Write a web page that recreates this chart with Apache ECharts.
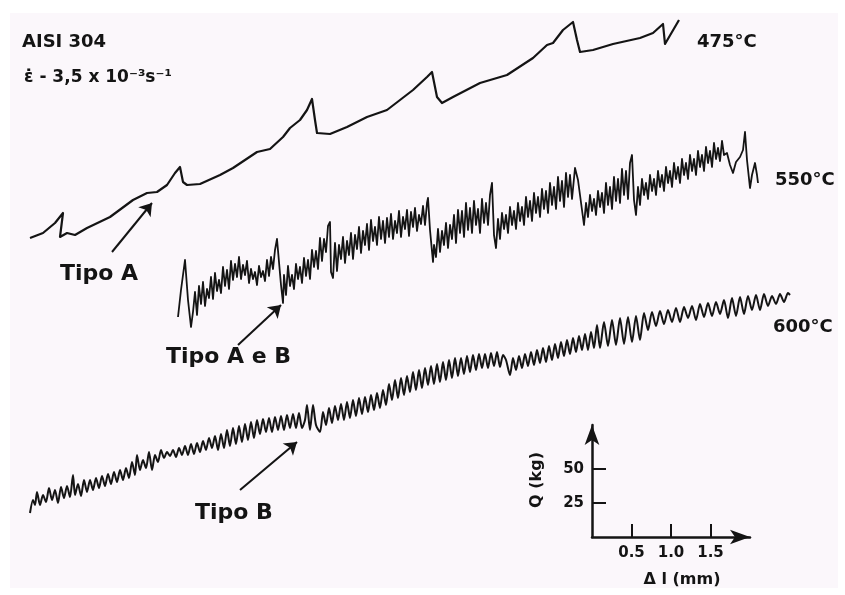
<!DOCTYPE html>
<html><head><meta charset="utf-8">
<script src="https://cdn.jsdelivr.net/npm/echarts@6/dist/echarts.min.js"></script>
<style>html,body{margin:0;padding:0;background:#fff}#c{width:845px;height:595px}</style>
</head><body><div id="c"></div>
<script>
// Load–elongation records (chart units: elongation →, load ↑)
const curve475 = [[30,357],[43,362],[55,372],[63,382],[60,358],[67,362],[75,360],[87,367],[110,378],[133,395],[147,402],[157,403],[167,410],[175,422],[180,428],[183,413],[187,410],[200,411],[220,420],[233,427],[257,443],[270,446],[283,458],[290,467],[300,475],[307,485],[312,496],[315,475],[317,462],[330,461],[347,468],[367,478],[387,485],[400,495],[413,505],[427,518],[432,523],[437,498],[442,492],[453,498],[480,512],[507,520],[533,537],[547,550],[553,552],[563,565],[573,573],[577,555],[580,543],[593,545],[613,551],[640,557],[653,562],[663,571],[665,551],[679,575]];

const curve550 = [[178,278],[181,305],[185,335],[188,295],[191,268],
[193,283],[195,303],[197,280],[199,309],[201,291],[203,313],[205,289],[207,306],[209,297],[211,318],[213,296],[215,322],[217,304],[219,315],[221,302],[223,328],[225,309],[227,325],[229,306],[231,334],[233,315],[235,331],[237,318],[239,338],[241,316],[243,330],[245,320],[247,334],[249,312],[251,326],[253,316],[255,323],[257,310],[259,329],[261,318],[263,324],[265,314],[267,335],[269,319],[271,338],[273,326],[275,345],[277,356],[279,333],[281,310],[283,292],
[284,320],[286,300],[288,329],[290,309],[292,320],[294,306],[296,331],[298,316],[300,328],[302,312],[304,337],[306,319],[308,335],[310,316],[312,345],[314,328],[316,344],[318,326],[320,357],[322,334],[324,356],[326,343],[328,369],[330,373],[331,323],[333,317],[335,352],[337,324],[339,350],[341,336],[343,358],[345,332],[347,354],[349,340],[351,362],[353,336],[355,360],[357,346],[359,368],[361,342],[363,364],[365,350],[367,371],[369,345],[371,375],[373,354],[375,368],[377,350],[379,378],[381,356],[383,374],[385,352],[387,377],[389,358],[391,381],[393,356],[395,374],[397,362],[399,384],[401,358],[403,378],[405,366],[407,385],[409,359],[411,383],[413,368],[415,387],[417,364],[419,380],[421,371],[423,389],[425,370],[427,392],[428,397],[430,365],[433,333],
[434,350],[436,338],[438,366],[440,343],[442,364],[444,350],[446,372],[448,347],[450,370],[452,356],[454,380],[456,352],[458,385],[460,362],[462,384],[464,358],[466,392],[468,365],[470,387],[472,362],[474,394],[476,370],[478,386],[480,362],[482,396],[484,372],[486,392],[488,370],[490,400],[492,412],[494,360],[496,347],
[498,376],[500,356],[502,382],[504,366],[506,380],[508,362],[510,388],[512,370],[514,384],[516,366],[518,392],[520,374],[522,388],[524,370],[526,398],[528,378],[530,394],[532,374],[534,402],[536,382],[538,398],[540,378],[542,406],[544,386],[546,404],[548,382],[550,412],[552,390],[554,408],[556,386],[558,418],[560,394],[562,414],[564,388],[566,422],[568,398],[570,420],[572,396],[575,427],[578,415],[584,370],
[586,392],[588,378],[590,400],[592,384],[594,396],[596,380],[598,404],[600,388],[602,402],[604,382],[606,412],[608,390],[610,408],[612,386],[614,418],[616,394],[618,416],[620,392],[622,426],[624,400],[626,424],[628,396],[630,432],[632,440],[634,395],[636,380],
[638,408],[640,390],[642,416],[644,400],[646,412],[648,396],[650,420],[652,404],[654,416],[656,400],[658,424],[660,408],[662,420],[664,404],[666,428],[668,412],[670,424],[672,408],[674,432],[676,416],[678,428],[680,412],[682,436],[684,420],[686,432],[688,416],[690,440],[692,424],[694,436],[696,420],[698,444],[700,428],[702,440],[704,424],[706,448],[708,432],[710,444],[712,428],[714,452],[716,436],[718,447],[720,434],[722,454],[724,440],
[727,442],[730,430],[733,422],[736,433],[740,438],[743,445],[745,463],[747,435],[750,407],[752,420],[755,432],[757,420],[758,412]];

const curve600 = [[30,82],[33,95],[35,90],[37,103],[40,90],[43,100],[46,93],[49,107],[52,95],[55,105],[58,92],[61,108],[64,97],[67,109],[70,98],[73,120],[75,100],[78,111],[81,99],[84,115],[87,103],[90,115],[93,105],[96,117],[99,107],[102,119],[105,109],[108,121],[111,111],[114,123],[117,113],[120,125],[123,115],[126,127],[129,117],[132,133],[135,120],[137,140],[140,125],[143,135],[146,127],[149,143],[152,125],[155,140],[158,133],[161,145],[164,137],[167,143],[170,139],[173,145],[176,138],[179,147],[182,140],[185,149],[188,140],[191,151],[194,141],[197,152],[200,143],[203,154],[206,145],[209,157],[212,147],[215,159],[218,145],[221,161],[224,147],[227,165],[230,149],[233,167],[236,151],[239,169],[242,153],[245,171],[248,155],[251,173],[254,157],[257,175],[260,161],[263,176],[266,163],[269,177],[272,163],[275,178],[278,165],[281,179],[284,165],[287,180],[290,167],[293,181],[296,167],[299,182],[302,167],[305,175],[307,190],[310,165],[313,190],[316,170],[320,163],[323,183],[326,170],[329,187],[332,172],[335,189],[338,175],[341,191],[344,175],[347,193],[350,177],[353,195],[356,179],[359,197],[362,181],[365,198],[368,183],[371,200],[374,185],[377,202],[380,187],[383,205],[386,190],[389,211],[392,195],[395,215],[398,197],[401,217],[404,200],[407,219],[410,203],[413,223],[416,205],[419,225],[422,207],[425,227],[428,210],[431,229],[434,211],[437,231],[440,213],[443,233],[446,215],[449,235],[452,217],[455,237],[458,219],[461,237],[464,221],[467,239],[470,223],[473,240],[476,225],[479,241],[482,227],[485,241],[488,227],[491,242],[494,229],[497,243],[500,228],[503,240],[506,235],[510,220],[513,237],[516,225],[519,239],[522,227],[525,241],[528,229],[531,243],[534,230],[537,245],[540,232],[543,247],[546,233],[549,249],[552,235],[555,251],[558,237],[561,253],[564,239],[567,255],[570,241],[573,257],[576,243],[579,259],[582,245],[585,261],[588,245],[591,263],[594,247],[597,270],[600,247],[604,273],[608,249],[612,275],[616,250],[620,277],[624,251],[628,278],[632,253],[636,279],[640,255],[644,282],[648,265],[652,283],[656,269],[660,284],[664,271],[668,285],[672,273],[676,287],[680,273],[684,288],[688,277],[692,289],[696,275],[700,291],[704,278],[708,292],[712,279],[716,293],[720,281],[724,295],[728,277],[732,297],[736,279],[740,298],[744,281],[748,299],[752,285],[756,300],[760,285],[764,301],[768,289],[772,299],[776,291],[780,301],[784,293],[788,302],[790,300]];

const curveNames = ['475°C', '550°C', '600°C'];
const scaleXTicks = [0.5, 1.0, 1.5];   // Δl (mm)
const scaleYTicks = [25, 50];          // Q (kg)
const annotations = ['Tipo A', 'Tipo A e B', 'Tipo B'];

const FONT = '"DejaVu Sans", "Liberation Sans", sans-serif';
const INK = '#141414';

const chart = echarts.init(document.getElementById('c'), null, {renderer: 'canvas'});

function lineSeries(data, width, smooth) {
  return {
    type: 'line', xAxisIndex: 0, yAxisIndex: 0, data: data,
    showSymbol: false, symbol: 'none', smooth: smooth || false,
    lineStyle: {color: INK, width: width, join: 'round'},
    silent: true, clip: false, animation: false
  };
}
function arrow(from, to) {
  return {
    type: 'lines', coordinateSystem: 'cartesian2d', xAxisIndex: 0, yAxisIndex: 0,
    symbol: ['none', 'arrow'], symbolSize: 12, silent: true, animation: false,
    lineStyle: {color: INK, width: 2, opacity: 1, curveness: 0},
    data: [{coords: [from, to]}]
  };
}
function txt(x, y, text, size, extra) {
  return Object.assign({
    type: 'text', x: x, y: y, silent: true, z: 10,
    style: {text: text, font: 'bold ' + size + 'px ' + FONT, fill: INK, verticalAlign: 'middle', align: 'left'}
  }, extra || {});
}

const option = {
  backgroundColor: '#ffffff',
  animation: false,
  grid: [
    {left: 0, top: 0, width: 845, height: 595, show: false},
    {left: 592, top: 425, width: 158, height: 112, show: false}
  ],
  xAxis: [
    {gridIndex: 0, type: 'value', min: 0, max: 845, show: false},
    {gridIndex: 1, type: 'value', min: 0, max: 2, interval: 0.5,
      axisLine: {show: true, onZero: false, symbol: ['none', 'arrow'], symbolSize: [11, 20], lineStyle: {color: INK, width: 2.5}},
      axisTick: {show: true, inside: true, length: 13, customValues: scaleXTicks, lineStyle: {color: INK, width: 2}},
      axisLabel: {show: true, customValues: scaleXTicks, margin: 9, color: INK, fontFamily: FONT, fontWeight: 'bold', fontSize: 15,
        formatter: v => v.toFixed(1)},
      splitLine: {show: false}}
  ],
  yAxis: [
    {gridIndex: 0, type: 'value', min: 0, max: 595, show: false},
    {gridIndex: 1, type: 'value', min: 0, max: 82,
      axisLine: {show: true, onZero: false, symbol: ['none', 'arrow'], symbolSize: [11, 20], lineStyle: {color: INK, width: 2.5}},
      axisTick: {show: true, inside: true, length: 14, customValues: scaleYTicks, lineStyle: {color: INK, width: 2}},
      axisLabel: {show: true, customValues: scaleYTicks, margin: 8, color: INK, fontFamily: FONT, fontWeight: 'bold', fontSize: 15},
      splitLine: {show: false}}
  ],
  graphic: [
    {type: 'rect', shape: {x: 10, y: 13, width: 828, height: 575}, style: {fill: '#fbf7fb'}, silent: true, z: -10},
    txt(22, 42, 'AISI 304', 18),
    txt(24, 78, 'ε̇ - 3,5 x 10⁻³s⁻¹', 17),
    txt(697, 42, curveNames[0], 18),
    txt(775, 180, curveNames[1], 18),
    txt(773, 327, curveNames[2], 18),
    txt(60, 274, annotations[0], 22),
    txt(166, 357, annotations[1], 22),
    txt(195, 513, annotations[2], 22),
    txt(537, 480, 'Q (kg)', 16, {rotation: Math.PI / 2, style: {text: 'Q (kg)', font: 'bold 16px ' + FONT, fill: INK, align: 'center', verticalAlign: 'middle'}}),
    txt(682, 580, 'Δ l (mm)', 16, {style: {text: 'Δ l (mm)', font: 'bold 16px ' + FONT, fill: INK, align: 'center', verticalAlign: 'middle'}})
  ],
  series: [
    lineSeries(curve475, 2.2),
    lineSeries(curve550, 1.8),
    lineSeries(curve600, 2, 0.25),
    arrow([112, 343], [152, 392]),
    arrow([238, 250], [281, 290]),
    arrow([240, 105], [297, 153])
  ]
};
chart.setOption(option);
</script>
</body></html>
